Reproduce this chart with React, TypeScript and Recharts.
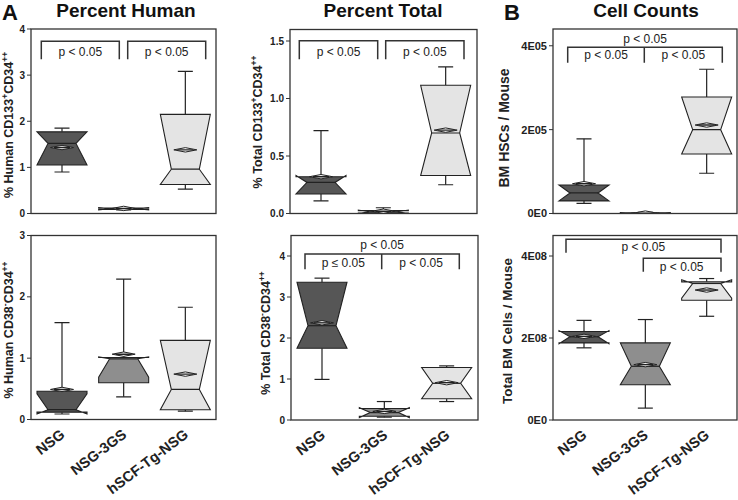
import React from 'react';
import { ComposedChart, Bar, XAxis, YAxis } from 'recharts';

const W = 738;
const H = 500;
const YW = 30;
const FONT = '"Liberation Sans", Arial, Helvetica, sans-serif';

const groups = ['NSG', 'NSG-3GS', 'hSCF-Tg-NSG'];
const fills = ['#565656', '#8e8e8e', '#e4e4e4'];

// one row per group: [min, q1, notchLo, median, notchHi, q3, max, mean]
const pctHumanCD133 = [
  [0.9, 1.05, 1.05, 1.52, 1.77, 1.77, 1.85, 1.43],
  [0.08, 0.09, 0.08, 0.105, 0.13, 0.12, 0.13, 0.11],
  [0.53, 0.63, 0.63, 0.96, 2.15, 2.15, 3.08, 1.38],
];
const pctTotalCD133 = [
  [0.11, 0.17, 0.17, 0.27, 0.33, 0.32, 0.72, 0.32],
  [0.0, 0.005, 0.0, 0.015, 0.03, 0.025, 0.05, 0.02],
  [0.25, 0.33, 0.33, 0.7, 1.115, 1.115, 1.275, 0.725],
];
const bmHSCs = [
  [24000, 30000, 30000, 49000, 68000, 68000, 178000, 71000],
  [0, 500, 0, 1000, 2000, 1500, 2500, 1000],
  [96000, 142000, 142000, 200000, 278000, 278000, 344000, 211000],
];
const pctHumanCD38 = [
  [0.09, 0.12, 0.09, 0.16, 0.42, 0.46, 1.58, 0.49],
  [0.37, 0.6, 0.69, 0.99, 1.02, 1.01, 2.29, 1.065],
  [0.135, 0.16, 0.16, 0.49, 1.29, 1.29, 1.83, 0.74],
];
const pctTotalCD38 = [
  [0.99, 1.75, 1.75, 2.3, 3.36, 3.36, 3.46, 2.37],
  [0.07, 0.09, 0.06, 0.18, 0.3, 0.28, 0.45, 0.21],
  [0.45, 0.52, 0.52, 0.895, 1.28, 1.28, 1.32, 0.91],
];
const bmCells = [
  [1.76e8, 1.88e8, 1.86e8, 2.03e8, 2.18e8, 2.16e8, 2.43e8, 2.04e8],
  [0.29e8, 0.86e8, 0.86e8, 1.31e8, 1.88e8, 1.88e8, 2.45e8, 1.35e8],
  [2.53e8, 2.92e8, 2.97e8, 3.33e8, 3.42e8, 3.37e8, 3.45e8, 3.17e8],
];

const ticks4 = [0, 1, 2, 3, 4];
const ticks3 = [0, 1, 2, 3];
const ticksPctTotal = [0, 0.5, 1, 1.5];
const ticksHSC = [0, 200000, 400000];
const ticksCells = [0, 2e8, 4e8];

const toRows = (stats: number[][]) =>
  stats.map((s, i) => ({
    name: groups[i],
    range: [s[0], s[6]],
    q1: s[1],
    nLo: s[2],
    med: s[3],
    nHi: s[4],
    q3: s[5],
    mean: s[7],
  }));

const sci = (v: number) => {
  if (v === 0) return '0E0';
  const e = Math.floor(Math.log10(v));
  return `${Math.round(v / Math.pow(10, e))}E${String(e).padStart(2, '0')}`;
};

const BoxShape = (props: any) => {
  const { x, y, width, height, payload, index } = props;
  const [lo, hi] = payload.range;
  const top = Math.min(y, y + height);
  const h = Math.abs(height);
  const py = (v: number) => top + (h * (hi - v)) / (hi - lo);
  const L = x;
  const R = x + width;
  const cx = x + width / 2;
  const ins = width * 0.22;
  const cap = 7.5;
  const stroke = '#222';
  const pts = [
    [L, py(payload.q1)],
    [R, py(payload.q1)],
    [R, py(payload.nLo)],
    [R - ins, py(payload.med)],
    [R, py(payload.nHi)],
    [R, py(payload.q3)],
    [L, py(payload.q3)],
    [L, py(payload.nHi)],
    [L + ins, py(payload.med)],
    [L, py(payload.nLo)],
  ]
    .map((p) => p.join(','))
    .join(' ');
  const my = py(payload.mean);
  const dw = width * 0.23;
  return (
    <g>
      <line x1={cx} x2={cx} y1={py(payload.q3)} y2={py(hi)} stroke={stroke} strokeWidth={1.2} />
      <line x1={cx - cap} x2={cx + cap} y1={py(hi)} y2={py(hi)} stroke={stroke} strokeWidth={1.2} />
      <line x1={cx} x2={cx} y1={py(payload.q1)} y2={py(lo)} stroke={stroke} strokeWidth={1.2} />
      <line x1={cx - cap} x2={cx + cap} y1={py(lo)} y2={py(lo)} stroke={stroke} strokeWidth={1.2} />
      <polygon points={pts} fill={fills[index]} stroke={stroke} strokeWidth={1.1} strokeLinejoin="miter" />
      <line x1={L + ins} x2={R - ins} y1={py(payload.med)} y2={py(payload.med)} stroke={stroke} strokeWidth={1.2} />
      <polygon
        points={`${cx - dw},${my} ${cx},${my - 2.2} ${cx + dw},${my} ${cx},${my + 2.2}`}
        fill="#fff"
        stroke={stroke}
        strokeWidth={1}
      />
      <line x1={cx - dw * 0.7} x2={cx + dw * 0.7} y1={my} y2={my} stroke={stroke} strokeWidth={1.4} />
    </g>
  );
};

const XTick = ({ x, y, payload }: any) => (
  <text
    x={x + 4}
    y={y + 9}
    transform={`rotate(-37, ${x + 4}, ${y + 9})`}
    textAnchor="end"
    fontSize={14.5}
    fontWeight="bold"
    fill="#222"
    fontFamily={FONT}
  >
    {payload.value}
  </text>
);

type PanelProps = {
  frame: number[];
  stats: number[][];
  domain: number[];
  ticks: number[];
  fmt: (v: number) => string;
  showX?: boolean;
  tickFont?: number;
};

const Panel = ({ frame, stats, domain, ticks, fmt, showX = false, tickFont = 10 }: PanelProps) => {
  const [l, t, r, b] = frame;
  const XH = showX ? 80 : 0;
  return (
    <div style={{ position: 'absolute', left: 0, top: 0 }}>
      <ComposedChart
        width={W}
        height={H}
        data={toRows(stats)}
        margin={{ top: t, left: l - YW, right: W - r, bottom: H - b - XH }}
      >
        <XAxis
          dataKey="name"
          hide={!showX}
          height={XH}
          axisLine={false}
          tickLine={false}
          interval={0}
          tick={<XTick />}
        />
        <YAxis
          type="number"
          domain={domain}
          ticks={ticks}
          allowDataOverflow
          tickFormatter={fmt}
          width={YW}
          axisLine={false}
          tickSize={4}
          tickMargin={2}
          tickLine={{ stroke: '#333' }}
          tick={{ fontSize: tickFont, fontWeight: 'bold', fill: '#222', fontFamily: FONT }}
        />
        <Bar dataKey="range" barSize={50} shape={BoxShape} isAnimationActive={false} />
      </ComposedChart>
    </div>
  );
};

const frames = {
  p1: [31, 29, 216, 213.5],
  p2: [290, 29.5, 477, 213.5],
  p3: [553, 29, 737, 213.5],
  p4: [31, 235.5, 216, 419.5],
  p5: [291, 235.5, 478, 420],
  p6: [553, 235.5, 737, 420],
};

// label pieces: [text, isSuperscript]
const YLabel = ({ cx, cy, size = 13, parts }: any) => {
  let shift = 0;
  return (
    <text
      transform={`translate(${cx},${cy}) rotate(-90)`}
      textAnchor="middle"
      dy="0.35em"
      fontSize={size}
      fontWeight="bold"
      fill="#222"
      fontFamily={FONT}
    >
      {parts.map(([s, sup]: [string, boolean], i: number) => {
        const target = sup ? -5 : 0;
        const dy = target - shift;
        shift = target;
        return (
          <tspan key={i} dy={dy} fontSize={sup ? size * 0.68 : size}>
            {s}
          </tspan>
        );
      })}
    </text>
  );
};

const PText = ({ x, y, children }: any) => (
  <text x={x} y={y} textAnchor="middle" fontSize={12} fill="#222" fontFamily={FONT}>
    {children}
  </text>
);

const brackets = [
  'M41.3,59.3 V41.3 H119.3 V59.3',
  'M127.7,59.3 V41.3 H205.7 V59.3',
  'M299.3,59.3 V40.7 H377.7 V59.3',
  'M385.7,59.3 V40.7 H464 V59.3',
  'M567.7,62.7 V47.3 H722.3 V62.7 M644.3,47.3 V62.7',
  'M305,269.3 V254 H459.3 V269.3 M381.7,254 V269.3',
  'M566,252.7 V239.3 H721 V252.7',
  'M643.3,271.7 V258.3 H721 V271.7',
];

const Overlay = () => (
  <svg width={W} height={H} style={{ position: 'absolute', left: 0, top: 0, pointerEvents: 'none' }}>
    {Object.values(frames).map(([l, t, r, b], i) => (
      <rect key={i} x={l} y={t} width={r - l} height={b - t} fill="none" stroke="#333" strokeWidth={1.3} />
    ))}
    <text x={2} y={20} fontSize={22} fontWeight="bold" fill="#111" fontFamily={FONT}>
      A
    </text>
    <text x={504} y={20} fontSize={22} fontWeight="bold" fill="#111" fontFamily={FONT}>
      B
    </text>
    {[
      ['Percent Human', 126],
      ['Percent Total', 383],
      ['Cell Counts', 646],
    ].map(([s, x]) => (
      <text key={s} x={x} y={17} textAnchor="middle" fontSize={19} fontWeight="bold" fill="#111" fontFamily={FONT}>
        {s}
      </text>
    ))}
    <YLabel cx={13} cy={125} size={12.5} parts={[['% Human CD133', false], ['+', true], ['CD34', false], ['++', true]]} />
    <YLabel cx={262} cy={122} size={12.5} parts={[['% Total CD133', false], ['+', true], ['CD34', false], ['++', true]]} />
    <YLabel cx={509} cy={128} size={14} parts={[['BM HSCs / Mouse', false]]} />
    <YLabel cx={13} cy={330} size={12.5} parts={[['% Human CD38', false], ['-', true], ['CD34', false], ['++', true]]} />
    <YLabel cx={270} cy={333} size={12.5} parts={[['% Total CD38', false], ['-', true], ['CD34', false], ['++', true]]} />
    <YLabel cx={512} cy={331} size={13.5} parts={[['Total BM Cells / Mouse', false]]} />
    {brackets.map((d, i) => (
      <path key={i} d={d} fill="none" stroke="#333" strokeWidth={1.5} />
    ))}
    <PText x={80.3} y={55.7}>p &lt; 0.05</PText>
    <PText x={166.7} y={55.7}>p &lt; 0.05</PText>
    <PText x={338.5} y={55.7}>p &lt; 0.05</PText>
    <PText x={424.8} y={55.7}>p &lt; 0.05</PText>
    <PText x={645} y={43.3}>p &lt; 0.05</PText>
    <PText x={606} y={59}>p &lt; 0.05</PText>
    <PText x={683.3} y={59}>p &lt; 0.05</PText>
    <PText x={382} y={249}>p &lt; 0.05</PText>
    <PText x={343.3} y={266.7}>p ≤ 0.05</PText>
    <PText x={421} y={266.7}>p &lt; 0.05</PText>
    <PText x={643.3} y={250.7}>p &lt; 0.05</PText>
    <PText x={681.7} y={270.7}>p &lt; 0.05</PText>
  </svg>
);

export default function App() {
  return (
    <div style={{ position: 'absolute', left: 0, top: 0, width: W, height: H, background: '#fff', fontFamily: FONT }}>
      <Panel frame={frames.p1} stats={pctHumanCD133} domain={[0, 4]} ticks={ticks4} fmt={(v) => String(v)} />
      <Panel frame={frames.p2} stats={pctTotalCD133} domain={[0, 1.6]} ticks={ticksPctTotal} fmt={(v) => v.toFixed(1)} />
      <Panel frame={frames.p3} stats={bmHSCs} domain={[0, 440000]} ticks={ticksHSC} fmt={sci} tickFont={11} />
      <Panel frame={frames.p4} stats={pctHumanCD38} domain={[0, 3]} ticks={ticks3} fmt={(v) => String(v)} showX />
      <Panel frame={frames.p5} stats={pctTotalCD38} domain={[0, 4.5]} ticks={ticks4} fmt={(v) => String(v)} showX />
      <Panel frame={frames.p6} stats={bmCells} domain={[0, 4.5e8]} ticks={ticksCells} fmt={sci} tickFont={11} showX />
      <Overlay />
    </div>
  );
}
